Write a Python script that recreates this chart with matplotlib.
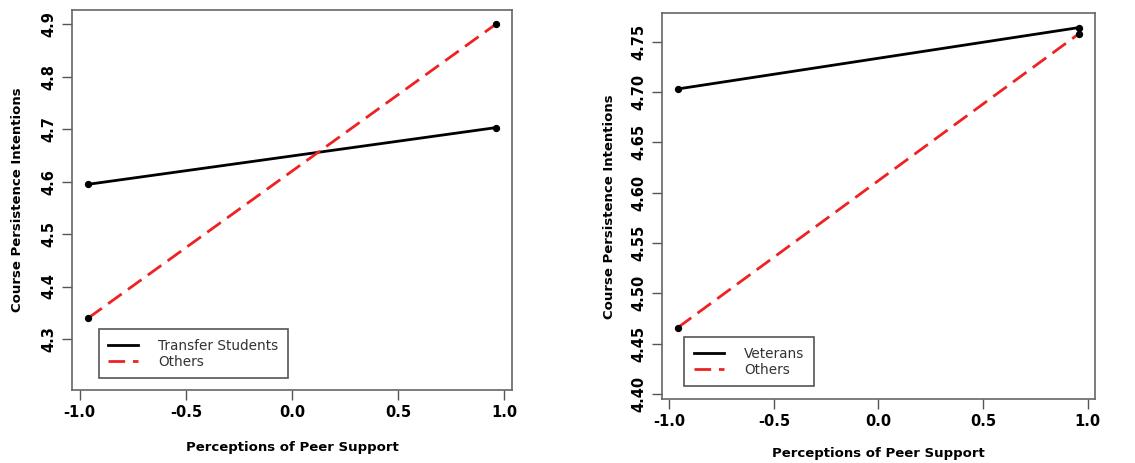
import numpy as np
import matplotlib.pyplot as plt

x_vals = [-0.96, 0.96]

transfer = [4.595, 4.703]
others_left = [4.340, 4.900]
veterans = [4.703, 4.764]
others_right = [4.466, 4.758]

left_yticks = [4.3, 4.4, 4.5, 4.6, 4.7, 4.8, 4.9]
right_yticks = [4.40, 4.45, 4.50, 4.55, 4.60, 4.65, 4.70, 4.75]
xticks = [-1.0, -0.5, 0.0, 0.5, 1.0]

fig = plt.figure(figsize=(11.35, 4.63), dpi=100)
ax1 = fig.add_axes([0.0634, 0.158, 0.3877, 0.820])
ax2 = fig.add_axes([0.583, 0.138, 0.382, 0.833])


def panel(ax, y1, y2, name, yticks, yfmt, ylim, leg_anchor, xlab_pad, ylab_pad):
    ax.plot(x_vals, y1, color='black', lw=2, label=name)
    ax.plot(x_vals, y2, color='#ee2222', lw=2, ls=(0, (6, 2.8)), label='Others')
    ax.scatter(x_vals, y1, color='black', s=18, zorder=3)
    ax.scatter(x_vals, y2, color='black', s=18, zorder=3)
    ax.set_xlim(-1.037, 1.037)
    ax.set_ylim(*ylim)
    ax.set_xticks(xticks)
    ax.set_xticklabels(['%.1f' % t for t in xticks], fontweight='bold', fontsize=10.5)
    ax.set_yticks(yticks)
    ax.set_yticklabels([yfmt % t for t in yticks], fontweight='bold', fontsize=10.5,
                       rotation=90, va='center')
    ax.tick_params(direction='out', length=7, width=1, color='#555555', pad=4)
    for s in ax.spines.values():
        s.set_color('#666666')
        s.set_linewidth(1.2)
    ax.set_xlabel('Perceptions of Peer Support', fontweight='bold', fontsize=9.5,
                  labelpad=xlab_pad)
    ax.set_ylabel('Course Persistence Intentions', fontweight='bold', fontsize=9.5,
                  labelpad=ylab_pad)
    leg = ax.legend(loc='lower left', bbox_to_anchor=leg_anchor, fontsize=9.8,
                    fancybox=False, framealpha=1, edgecolor='#555555',
                    handlelength=2.2, borderpad=0.7, labelspacing=0.15,
                    handletextpad=1.5)
    leg.get_frame().set_linewidth(1.2)
    for t in leg.get_texts():
        t.set_color('#333333')


panel(ax1, transfer, others_left, 'Transfer Students', left_yticks, '%.1f',
      (4.203, 4.927), (0.045, 0.012), 15, 13)
panel(ax2, veterans, others_right, 'Veterans', right_yticks, '%.2f',
      (4.395, 4.778), (0.036, 0.016), 13, 11)

fig.savefig('out.png', dpi=100)
